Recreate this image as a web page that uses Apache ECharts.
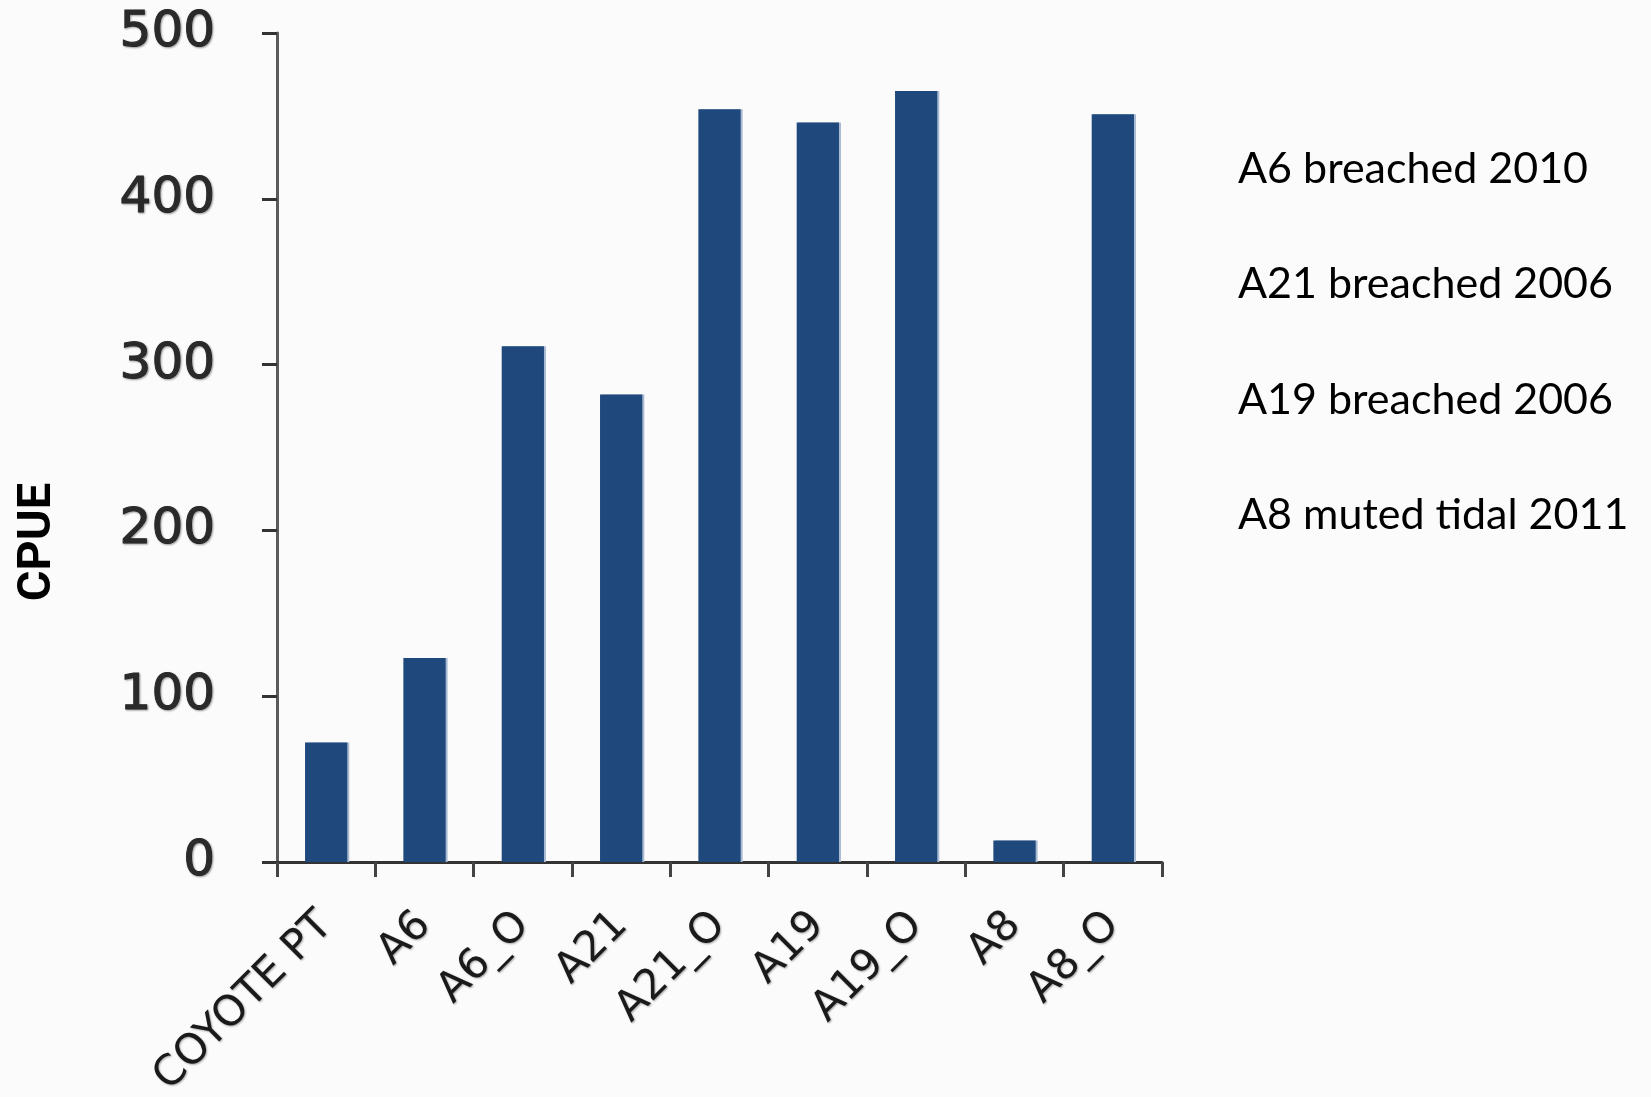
<!DOCTYPE html>
<html>
<head>
<meta charset="utf-8">
<title>CPUE by site</title>
<script src="https://cdn.jsdelivr.net/npm/echarts@6/dist/echarts.min.js"></script>
<style>
  html, body { margin: 0; padding: 0; background: #fbfbfb; }
  #chart { width: 1651px; height: 1097px; }
</style>
</head>
<body>
<div id="chart"></div>
<script>
// Sites sampled and catch per unit effort at each
const sites = ['COYOTE PT', 'A6', 'A6_O', 'A21', 'A21_O', 'A19', 'A19_O', 'A8', 'A8_O'];
const cpue = [72, 123, 311, 282, 454, 446, 465, 13, 451];

// Value axis range
const yMin = 0;
const yMax = 500;
const yStep = 100;

// Side notes on restoration history
const notes = [
  'A6 breached 2010',
  'A21 breached 2006',
  'A19 breached 2006',
  'A8 muted tidal 2011'
];

const axisTitle = 'CPUE';

const chart = echarts.init(document.getElementById('chart'), null, { renderer: 'canvas' });

const noteFirstY = 169;
const noteGap = 115.5;

const shadowText = {
  textShadowColor: 'rgba(0,0,0,0.35)',
  textShadowBlur: 2,
  textShadowOffsetX: 1,
  textShadowOffsetY: 1
};

chart.setOption({
  backgroundColor: '#fbfbfb',
  animation: false,
  grid: { left: 277, right: 489, top: 33, bottom: 235, containLabel: false, outerBoundsMode: 'none' },
  xAxis: {
    type: 'category',
    data: sites,
    boundaryGap: true,
    axisLine: { show: true, lineStyle: { color: '#333', width: 3 } },
    axisTick: { show: true, alignWithLabel: false, length: 15, lineStyle: { color: '#444', width: 3 } },
    axisLabel: Object.assign({
      rotate: 45,
      interval: 0,
      margin: 57,
      fontFamily: 'DejaVu Sans',
      fontSize: 42,
      color: '#1a1a1a'
    }, shadowText)
  },
  yAxis: {
    type: 'value',
    min: yMin,
    max: yMax,
    interval: yStep,
    splitLine: { show: false },
    axisLine: { show: true, lineStyle: { color: '#5a5a5a', width: 3 } },
    axisTick: { show: true, inside: false, length: 15, lineStyle: { color: '#333', width: 3 } },
    axisLabel: Object.assign({
      margin: 62,
      fontFamily: 'DejaVu Sans',
      fontSize: 50,
      color: '#2a2a2a',
      textBorderColor: '#2a2a2a',
      textBorderWidth: 1
    }, shadowText)
  },
  series: [{
    type: 'bar',
    data: cpue,
    barWidth: '43%',
    itemStyle: {
      color: '#1f497d',
      shadowColor: '#a9bbd3',
      shadowBlur: 0,
      shadowOffsetX: 2,
      shadowOffsetY: 0
    },
    z: 1
  }],
  graphic: [
    {
      type: 'text',
      x: 38,
      y: 542,
      rotation: Math.PI / 2,
      style: {
        text: axisTitle,
        fontFamily: 'Roboto',
        fontWeight: 'bold',
        fontSize: 47,
        fill: '#000',
        align: 'center',
        verticalAlign: 'middle'
      }
    }
  ].concat(notes.map((t, i) => ({
    type: 'text',
    x: 1238,
    y: noteFirstY + i * noteGap,
    style: {
      text: t,
      fontFamily: 'Lato',
      fontSize: 43,
      fill: '#000',
      align: 'left',
      verticalAlign: 'middle'
    }
  })))
});
</script>
</body>
</html>
